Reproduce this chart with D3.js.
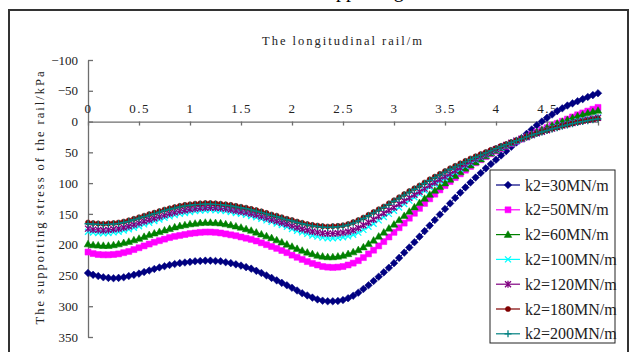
<!DOCTYPE html>
<meta charset="utf-8">
<style>
  body { margin: 0; background: #fff; }
  svg text { font-family: "Liberation Serif", "DejaVu Serif", serif !important; }
</style>
<body id="chart"></body>

<script src="https://cdn.jsdelivr.net/npm/d3@7/dist/d3.min.js"></script>
<script>
// position along the rail, m
var xs = [0,0.05,0.1,0.15,0.2,0.25,0.3,0.35,0.4,0.45,
  0.5,0.55,0.6,0.65,0.7,0.75,0.8,0.85,0.9,0.95,
  1,1.05,1.1,1.15,1.2,1.25,1.3,1.35,1.4,1.45,
  1.5,1.55,1.6,1.65,1.7,1.75,1.8,1.85,1.9,1.95,
  2,2.05,2.1,2.15,2.2,2.25,2.3,2.35,2.4,2.45,
  2.5,2.55,2.6,2.65,2.7,2.75,2.8,2.85,2.9,2.95,
  3,3.05,3.1,3.15,3.2,3.25,3.3,3.35,3.4,3.45,
  3.5,3.55,3.6,3.65,3.7,3.75,3.8,3.85,3.9,3.95,
  4,4.05,4.1,4.15,4.2,4.25,4.3,4.35,4.4,4.45,
  4.5,4.55,4.6,4.65,4.7,4.75,4.8,4.85,4.9,4.95,
  5];

// supporting stress, kPa
var k30 = [246,249,251,253,254,254.5,254,253,251,249,
  247,244.5,242,239.5,237,235,233,231.5,230,229,
  228,227,226.5,226,226,226.5,227,228.5,230,232,
  234,236.5,239,242.5,246,250,254,258,262,266,
  270,274.5,279,282.5,286,289,291,292,292,291.5,
  290,287,283,278,272,266,259,252,245,237.5,
  230,221.5,213,204.5,196,187,178,169,160,151,
  142,133,124,115.5,107,99,91,83.5,76,69,
  62,55,48,41,34,27,20,13,6,0,
  -6,-11.5,-17,-21.5,-26,-29.5,-33,-36.5,-40,-43,
  -46];
var k50 = [212,214.5,216,216.5,216.5,216,215,213,211,208,
  205,202,199,196,193.5,191,188.5,186.5,185,183.5,
  182,181,180,179.5,179.5,180,181,182.5,184,185.5,
  187.5,189.5,191.5,194,197,200,203,206,209.5,213,
  217,220.5,224,227.5,230.5,233,235.5,236.5,237,236.5,
  235.5,233,230,226,221,215,209,202,195,187.5,
  180,172.5,165,157,149,141,133,125.5,118,111,
  104,97.5,91,85,79,73,67,62,57,52.5,
  48,44,40,36,32,28.5,25,21,17,13.5,
  10,6.5,3,-0.5,-4,-7.5,-11,-14,-17,-20,
  -23];
var k60 = [199,200.5,201,201.5,201.5,200.5,199,197,195,192.5,
  190,187,184,181.5,179,176.5,174,171.5,169.5,168,
  166.5,165.5,164.5,164,164,164.5,165,166.5,168,170,
  172,174.5,177,180,183,186,189,192.5,196,199.5,
  203,206.5,209.5,212.5,215,217.5,219,220,220,219,
  217.5,215,212,208.5,204,198.5,193,186.5,180,173.5,
  167,160,153,146,139,132,125,118.5,112,106,
  100,94,88,82,76,71,66,61,56,51.5,
  47,43,39,35,31,27.5,24,20.5,17,13.5,
  10,6.5,3,0,-3,-6,-9,-11.5,-14,-16,
  -18];
var k100 = [179,180.5,181,181.5,181,180,179,177,175,172.5,
  170,167,164.5,161.5,159,156.5,154,152,150,148.5,
  147,145.5,144.5,144,143.5,144,144.5,145.5,147,148.5,
  150,151.5,153.5,155.5,158,160.5,163,165.5,168,171,
  174.5,177.5,180,182.5,185,187,188.5,189.5,189.5,189,
  188,186.5,184,180.5,176,171,166,160.5,155,150,
  145,139.5,134,128.5,123,117.5,112,106.5,101.5,96.5,
  92,87,82,77,72,67,62,58,54,50,
  46,42.5,39,35.5,32,28.5,25,22,19,16,
  13.5,10.5,8,5.5,3.5,1.5,-0.5,-2.5,-4,-5.5,
  -7];
var k120 = [174,175.5,176,176.5,176,175,174,172,170,167.5,
  165,162,159.5,157,154.5,152,149.5,147.5,145.5,144,
  142.5,141.5,140.5,140,139.5,140,140.5,141.5,143,144.5,
  146,147.5,149.5,151.5,154,156.5,159,161.5,164,166.5,
  169.5,172,174.5,176.5,178.5,180,181.5,182,182,181.5,
  180.5,179,176.5,173,168.5,164,159,154,149,144,
  139.5,134,129,124,119,114,109,104,99,94,
  89.5,85,80,75,70,65.5,61,57,53,49,
  45,41.5,38,34.5,31,28,25,22,19,16.5,
  14,11.5,9,6.5,4.5,2.5,0.5,-1.5,-3,-4.5,
  -6];
var k180 = [164,165,165.5,166,165.5,165,164,162.5,160.5,158,
  155.5,153,150.5,148,145.5,143,141,139,137,135.5,
  134.5,133.5,133,132.5,132.5,133,133.5,134.5,135.5,137,
  138.5,140,142,144,146,148.5,151,153,155.5,158,
  160,162.5,164.5,166.5,168,169,170,170.5,170,169.5,
  168.5,166.5,163.5,160,156,151.5,147,142.5,138,133,
  128,123,118,113,108.5,104,99,94,89.5,85,
  80.5,76,72,68,64,60,56.5,53,49.5,46,
  43,39.5,36.5,33.5,30.5,27.5,24.5,21.5,19,16.5,
  14,11.5,9.5,7,5,3,1,-0.5,-2,-3.5,
  -5];
var k200 = [166,166.5,167,167.5,167,166.5,165.5,164,162,159.5,
  157,154.5,152,149.5,147,144.5,142.5,140.5,138.5,137,
  136,135,134.5,134,134,134.5,135,136,137,138.5,
  140,141.5,143.5,145.5,147.5,150,152.5,154.5,157,159.5,
  161.5,164,166,168,169.5,170.5,171.5,172,171.5,171,
  170,168,165,161.5,157.5,153,148.5,144,139.5,134.5,
  129.5,124.5,119.5,114.5,110,105,100.5,95.5,91,86.5,
  82,77.5,73.5,69.5,65.5,61.5,58,54.5,51,47.5,
  44,40.5,37.5,34,31,28,25,22,19.5,17,
  14.5,12,10,7.5,5.5,3.5,1.5,0,-1.5,-3,
  -4.5];

var seriesNames = ["k2=30MN/m","k2=50MN/m","k2=60MN/m","k2=100MN/m","k2=120MN/m","k2=180MN/m","k2=200MN/m"];
var seriesValues = [k30, k50, k60, k100, k120, k180, k200];
var seriesColors = ["#000080","#ff00ff","#008000","#00ffff","#800080","#800000","#008080"];
var seriesMarkers = ["diamond","square","triangle","x","star","circle","plus"];

var xTicks = [0,0.5,1,1.5,2,2.5,3,3.5,4,4.5,5];
var yTicks = [-100,-50,0,50,100,150,200,250,300,350];

var width = 631, height = 352;
var serif = "'Liberation Serif', 'DejaVu Serif', serif";

var svg = d3.select("#chart").append("svg")
    .attr("width", width)
    .attr("height", height);

// outer chart frame
svg.append("rect")
    .attr("x", 9).attr("y", 10)
    .attr("width", 619).attr("height", 350)
    .attr("fill", "#fff")
    .attr("stroke", "#333")
    .attr("stroke-width", 2);

// chart title, cut off above the frame as in the source image
svg.append("text")
    .attr("x", 282).attr("y", -3)
    .style("font-family", serif)
    .style("font-size", "20px")
    .text("The supporting stress");

var x = d3.scaleLinear().domain([0, 5]).range([88, 598]);
var y = d3.scaleLinear().domain([-100, 350]).range([60, 337]);

var axisColor = "#6e6e6e";

// y axis, ticks pointing inward
var yAxis = svg.append("g")
    .attr("transform", "translate(" + x(0) + ",0)")
    .call(d3.axisLeft(y).tickValues(yTicks).tickSizeInner(-5).tickSizeOuter(0).tickPadding(10)
        .tickFormat(function (d) { return d < 0 ? "\u2212" + (-d) : d; }));

// x axis along stress = 0, labels above
var xAxis = svg.append("g")
    .attr("transform", "translate(0," + y(0) + ")")
    .call(d3.axisTop(x).tickValues(xTicks).tickSizeInner(-4).tickSizeOuter(0).tickPadding(9)
        .tickFormat(function (d) { return d3.format("")(d); }));

[xAxis, yAxis].forEach(function (g) {
  g.attr("font-family", null);
  g.select(".domain").attr("stroke", axisColor).attr("stroke-width", 1.3);
  g.selectAll(".tick line").attr("stroke", axisColor).attr("stroke-width", 1.3);
  g.selectAll(".tick text")
      .attr("fill", "#222")
      .style("font-family", serif)
      .style("font-size", "13px");
});
xAxis.selectAll(".tick text").style("letter-spacing", "1.5px");

// axis titles
svg.append("text")
    .attr("x", 343).attr("y", 45)
    .attr("text-anchor", "middle")
    .style("font-family", serif)
    .style("font-size", "12.5px")
    .style("letter-spacing", "2px")
    .attr("fill", "#222")
    .text("The longitudinal rail/m");

svg.append("text")
    .attr("transform", "translate(44,197) rotate(-90)")
    .attr("text-anchor", "middle")
    .style("font-family", serif)
    .style("font-size", "12.5px")
    .style("letter-spacing", "2px")
    .attr("fill", "#222")
    .text("The supporting stress of the rail/kPa");

// marker shapes
function markerPath(type) {
  switch (type) {
    case "diamond": return "M0,-3.8L3.8,0L0,3.8L-3.8,0Z";
    case "square": return "M-3,-3H3V3H-3Z";
    case "triangle": return "M0,-3.8L3.8,2.8H-3.8Z";
    case "circle": return "M2.6,0A2.6,2.6 0 1 1 -2.6,0A2.6,2.6 0 1 1 2.6,0Z";
    case "x": return "M-3,-3L3,3M-3,3L3,-3";
    case "star": return "M-3,-3L3,3M-3,3L3,-3M0,-3.5V3.5";
    case "plus": return "M-3.5,0H3.5M0,-3.5V3.5";
  }
}
function isFilled(type) {
  return type === "diamond" || type === "square" || type === "triangle" || type === "circle";
}

var line = d3.line()
    .x(function (d) { return x(d[0]); })
    .y(function (d) { return y(d[1]); });

seriesValues.forEach(function (vals, s) {
  var pts = xs.map(function (xv, i) { return [xv, vals[i]]; });
  var col = seriesColors[s], type = seriesMarkers[s];
  var g = svg.append("g").attr("class", "series");
  g.append("path")
      .attr("d", line(pts))
      .attr("fill", "none")
      .attr("stroke", col)
      .attr("stroke-width", 1);
  g.selectAll("path.mk")
      .data(pts)
      .enter().append("path")
      .attr("class", "mk")
      .attr("transform", function (d) { return "translate(" + x(d[0]) + "," + y(d[1]) + ")"; })
      .attr("d", markerPath(type))
      .attr("fill", isFilled(type) ? col : "none")
      .attr("stroke", col)
      .attr("stroke-width", isFilled(type) ? 0.5 : 1.3);
});

// legend
var legend = svg.append("g");
legend.append("rect")
    .attr("x", 490).attr("y", 170)
    .attr("width", 125).attr("height", 173)
    .attr("fill", "#fff")
    .attr("stroke", "#222")
    .attr("stroke-width", 1);

seriesNames.forEach(function (name, s) {
  var ly = 185 + s * 24.8;
  var col = seriesColors[s], type = seriesMarkers[s];
  legend.append("line")
      .attr("x1", 496).attr("x2", 520)
      .attr("y1", ly).attr("y2", ly)
      .attr("stroke", col).attr("stroke-width", 1.2);
  legend.append("path")
      .attr("transform", "translate(508," + ly + ")")
      .attr("d", markerPath(type))
      .attr("fill", isFilled(type) ? col : "none")
      .attr("stroke", col)
      .attr("stroke-width", isFilled(type) ? 0.5 : 1.3);
  legend.append("text")
      .attr("x", 525).attr("y", ly + 5.5)
      .style("font-family", serif)
      .style("font-size", "16px")
      .attr("fill", "#222")
      .text(name);
});
</script>
